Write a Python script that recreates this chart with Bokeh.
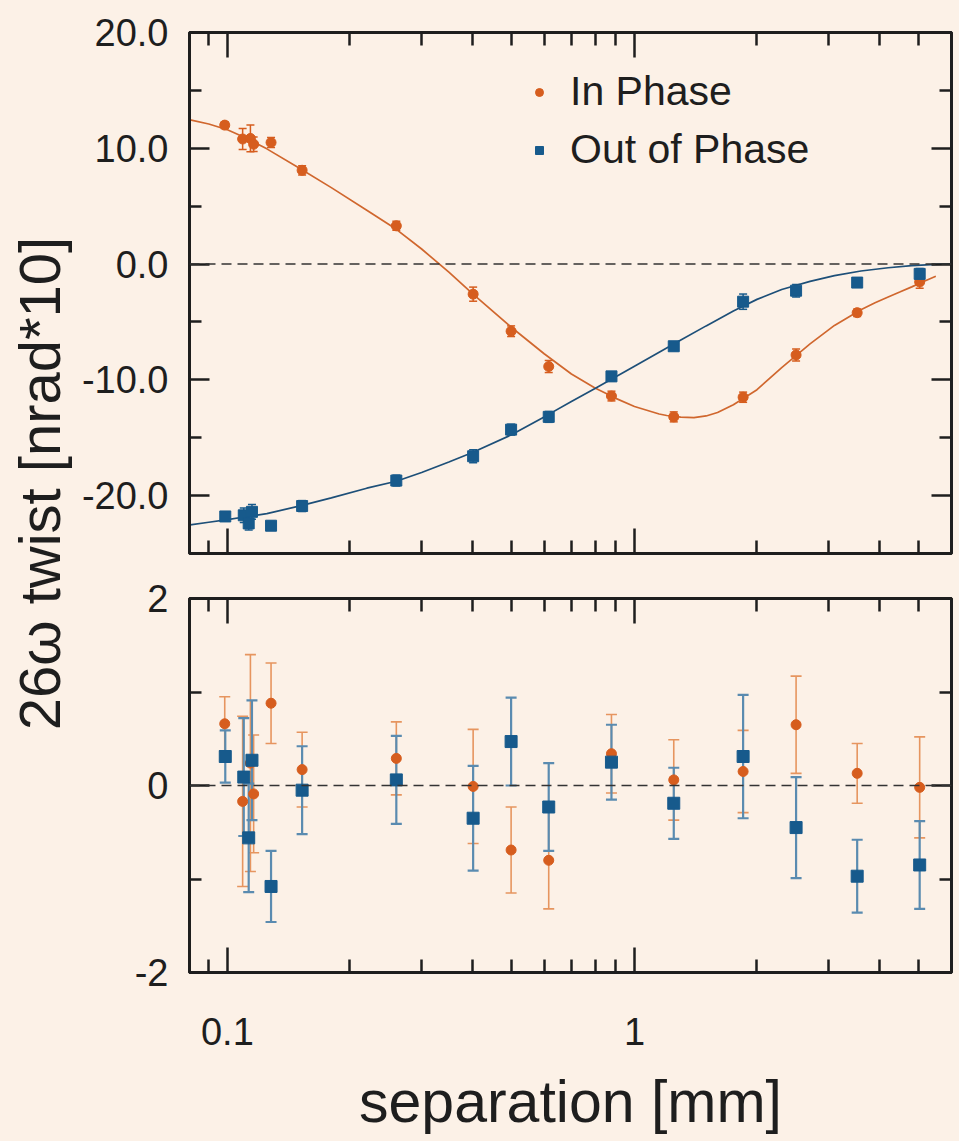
from math import pi
from bokeh.plotting import figure
from bokeh.layouts import row, column
from bokeh.models import (ColumnDataSource, Whisker, TeeHead, Span, Label, Legend,
                          LegendItem, LogAxis, LinearAxis, FixedTicker,
                          CustomJSTickFormatter, PrintfTickFormatter, Range1d)
from bokeh.embed import file_html
from bokeh.resources import INLINE

# ---------------- data ----------------
x_in = [0.0985, 0.109, 0.1139, 0.116, 0.128, 0.1526, 0.26, 0.4015, 0.4977, 0.6157,
        0.878, 1.249, 1.849, 2.495, 3.525, 5.02]
y_in = [12.0, 10.8, 10.85, 10.35, 10.5, 8.1, 3.3, -2.6, -5.8, -8.85,
        -11.4, -13.2, -11.5, -7.85, -4.2, -1.55]
res_in = [0.66, -0.17, 0.24, -0.09, 0.88, 0.17, 0.29, -0.01, -0.69, -0.80,
          0.34, 0.06, 0.15, 0.65, 0.13, -0.02]
err_in = [0.29, 0.91, 1.16, 0.63, 0.43, 0.40, 0.39, 0.61, 0.46, 0.52,
          0.42, 0.43, 0.44, 0.52, 0.32, 0.54]

x_out = [0.0988, 0.1097, 0.1128, 0.1149, 0.128, 0.1526, 0.26, 0.4015, 0.4977, 0.6157,
         0.878, 1.249, 1.849, 2.495, 3.525, 5.02]
y_out = [-21.8, -21.7, -22.4, -21.4, -22.6, -20.9, -18.7, -16.6, -14.3, -13.2,
         -9.7, -7.1, -3.25, -2.3, -1.6, -0.85]
res_out = [0.31, 0.09, -0.56, 0.27, -1.08, -0.05, 0.06, -0.35, 0.47, -0.23,
           0.25, -0.19, 0.31, -0.45, -0.97, -0.85]
err_out = [0.28, 0.63, 0.58, 0.64, 0.38, 0.47, 0.47, 0.56, 0.47, 0.47,
           0.40, 0.38, 0.66, 0.54, 0.39, 0.47]

fit_x_in = [0.081, 0.09, 0.1, 0.11, 0.125, 0.15, 0.18, 0.22, 0.26, 0.3, 0.35, 0.4,
            0.5, 0.6, 0.7, 0.8, 0.9, 1.0, 1.15, 1.2, 1.3, 1.4, 1.5, 1.6, 1.75, 2.0,
            2.3, 2.7, 3.1, 3.6, 3.9, 4.2, 4.5, 4.8, 5.1, 5.5]
fit_y_in = [12.45, 12.1, 11.6, 10.95, 9.95, 8.3, 6.6, 4.65, 3.0, 1.3, -0.7, -2.55,
            -5.5, -7.75, -9.5, -10.7, -11.6, -12.3, -12.95, -13.08, -13.22, -13.27, -13.12,
            -12.82, -12.15, -10.85, -8.95, -6.9, -5.3, -3.95, -3.35, -2.85, -2.4, -1.97,
            -1.55, -1.05]

fit_x_out = [0.081, 0.09, 0.1, 0.11, 0.125, 0.15, 0.18, 0.22, 0.26, 0.3, 0.35, 0.4,
             0.5, 0.6, 0.7, 0.8, 0.9, 1.0, 1.15, 1.3, 1.5, 1.75, 2.0, 2.3, 2.7, 3.1,
             3.6, 4.2, 4.8, 5.5, 6.0]
fit_y_out = [-22.53, -22.3, -22.07, -21.85, -21.55, -20.91, -20.19, -19.36, -18.76, -18.0,
             -17.1, -16.28, -14.73, -13.2, -11.88, -10.75, -9.74, -8.83, -7.62, -6.56,
             -5.34, -4.05, -3.05, -2.2, -1.5, -1.0, -0.6, -0.32, -0.14, -0.03, 0.01]

x_major_ticks = [0.1, 1]
x_minor_ticks = [0.09, 0.2, 0.3, 0.4, 0.5, 0.6, 0.7, 0.8, 0.9, 2, 3, 4, 5]
top_major_ticks = [-20, -10, 0, 10, 20]
top_minor_ticks = [-15, -5, 5, 15]
bot_major_ticks = [-2, 0, 2]
bot_minor_ticks = [-1, 1]

legend_labels = ["In Phase", "Out of Phase"]
x_title = "separation [mm]"
y_title = "26ω twist [nrad*10]"

# ---------------- style ----------------
BG = "#fcf1e7"
INK = "#1e1e1e"
ORANGE = "#d65d1e"
BLUE = "#175a8c"
ORANGE_LINE = "#d0672e"
BLUE_LINE = "#1d4f78"
ORANGE_BAR = "#e6955f"
BLUE_BAR = "#5a8bb0"
FONT = "Liberation Sans"
X_RANGE = (0.0807, 6.01)

LAB_W = 76
PANEL_W = 882
TOP_H = 576
BOT_H = 564
TOTAL_H = TOP_H + BOT_H


def style_x_axis(ax, labels):
    ax.ticker = FixedTicker(ticks=x_major_ticks, minor_ticks=x_minor_ticks)
    ax.axis_line_width = 3
    ax.axis_line_color = INK
    ax.major_tick_in = 25
    ax.major_tick_out = 0
    ax.minor_tick_in = 13
    ax.minor_tick_out = 0
    ax.major_tick_line_width = 2.5
    ax.minor_tick_line_width = 2.5
    ax.major_tick_line_color = INK
    ax.minor_tick_line_color = INK
    if labels:
        ax.formatter = CustomJSTickFormatter(code="return String(Math.round(tick*10)/10);")
        ax.major_label_text_font = FONT
        ax.major_label_text_font_size = "38px"
        ax.major_label_text_color = INK
        ax.major_label_standoff = 45
        ax.axis_label = x_title
        ax.axis_label_text_font = FONT
        ax.axis_label_text_font_size = "59px"
        ax.axis_label_text_font_style = "normal"
        ax.axis_label_text_color = INK
        ax.axis_label_standoff = 21
    else:
        ax.formatter = CustomJSTickFormatter(code="return '';")
        ax.major_label_text_font_size = "0px"
        ax.major_label_standoff = 0


def style_y_axis(ax, major, minor, fmt, labels):
    ax.ticker = FixedTicker(ticks=major, minor_ticks=minor)
    ax.axis_line_width = 3
    ax.axis_line_color = INK
    ax.major_tick_in = 20
    ax.major_tick_out = 0
    ax.minor_tick_in = 12
    ax.minor_tick_out = 0
    ax.major_tick_line_width = 2.5
    ax.minor_tick_line_width = 2.5
    ax.major_tick_line_color = INK
    ax.minor_tick_line_color = INK
    if labels:
        ax.formatter = PrintfTickFormatter(format=fmt)
        ax.major_label_text_font = FONT
        ax.major_label_text_font_size = "38px"
        ax.major_label_text_color = INK
        ax.major_label_standoff = 21
    else:
        ax.formatter = CustomJSTickFormatter(code="return '';")
        ax.major_label_text_font_size = "0px"
        ax.major_label_standoff = 0


def make_panel(height, y_range, border_top, border_bottom):
    p = figure(width=PANEL_W, height=height, x_axis_type="log",
               x_range=Range1d(*X_RANGE), y_range=Range1d(*y_range),
               x_axis_location=None, y_axis_location=None,
               min_border_left=113, min_border_right=7,
               min_border_top=border_top, min_border_bottom=border_bottom,
               toolbar_location=None, output_backend="svg",
               background_fill_color=BG, border_fill_color=BG,
               outline_line_color=INK, outline_line_width=3)
    p.grid.visible = False
    return p


def add_axes(p, major, minor, fmt, x_labels):
    below = LogAxis()
    style_x_axis(below, x_labels)
    p.add_layout(below, "below")
    above = LogAxis()
    style_x_axis(above, False)
    p.add_layout(above, "above")
    left = LinearAxis()
    style_y_axis(left, major, minor, fmt, True)
    p.add_layout(left, "left")
    right = LinearAxis()
    style_y_axis(right, major, minor, fmt, False)
    p.add_layout(right, "right")


def zero_line(p):
    p.add_layout(Span(location=0, dimension="width", line_color="#333333",
                      line_width=1.6, line_dash="10 6"))


def whiskers(p, src, color, width, cap):
    p.add_layout(Whisker(base="x", upper="hi", lower="lo", source=src,
                         dimension="height", line_color=color, line_width=width,
                         upper_head=TeeHead(size=cap, line_color=color, line_width=width),
                         lower_head=TeeHead(size=cap, line_color=color, line_width=width)))


# ---------------- top panel ----------------
top = make_panel(TOP_H, (-25, 20), 32, 23)
add_axes(top, top_major_ticks, top_minor_ticks, "%.1f", False)
zero_line(top)

top.line(fit_x_in, fit_y_in, line_color=ORANGE_LINE, line_width=1.7)
top.line(fit_x_out, fit_y_out, line_color=BLUE_LINE, line_width=1.7)

src_in = ColumnDataSource(dict(x=x_in, y=y_in,
                               hi=[v + e for v, e in zip(y_in, err_in)],
                               lo=[v - e for v, e in zip(y_in, err_in)]))
src_out = ColumnDataSource(dict(x=x_out, y=y_out,
                                hi=[v + e for v, e in zip(y_out, err_out)],
                                lo=[v - e for v, e in zip(y_out, err_out)]))
whiskers(top, src_in, ORANGE, 1.5, 8)
whiskers(top, src_out, BLUE, 1.5, 8)
r_in = top.scatter("x", "y", source=src_in, marker="circle", size=10,
                   fill_color=ORANGE, line_color=ORANGE)
r_out = top.scatter("x", "y", source=src_out, marker="square", size=11,
                    fill_color=BLUE, line_color=BLUE)

legend = Legend(items=[LegendItem(label=legend_labels[0], renderers=[r_in]),
                       LegendItem(label=legend_labels[1], renderers=[r_out])],
                location=(340, 380), orientation="vertical",
                background_fill_alpha=0, border_line_color=None,
                label_text_font=FONT, label_text_font_size="41px",
                label_text_color=INK, glyph_width=20, glyph_height=20,
                label_standoff=21, spacing=11, padding=0, margin=0)
top.add_layout(legend)

# ---------------- bottom panel ----------------
bot = make_panel(BOT_H, (-2, 2), 22, BOT_H - 22 - 374)
add_axes(bot, bot_major_ticks, bot_minor_ticks, "%d", True)
zero_line(bot)

rsrc_in = ColumnDataSource(dict(x=x_in, y=res_in,
                                hi=[v + e for v, e in zip(res_in, err_in)],
                                lo=[v - e for v, e in zip(res_in, err_in)]))
rsrc_out = ColumnDataSource(dict(x=x_out, y=res_out,
                                 hi=[v + e for v, e in zip(res_out, err_out)],
                                 lo=[v - e for v, e in zip(res_out, err_out)]))
whiskers(bot, rsrc_in, ORANGE_BAR, 1.6, 11)
bot.scatter("x", "y", source=rsrc_in, marker="circle", size=10,
            fill_color=ORANGE, line_color=ORANGE)
whiskers(bot, rsrc_out, BLUE_BAR, 2.2, 11)
bot.scatter("x", "y", source=rsrc_out, marker="square", size=12,
            fill_color=BLUE, line_color=BLUE)

# ---------------- shared y title ----------------
lab = figure(width=LAB_W, height=TOTAL_H, x_range=Range1d(0, LAB_W),
             y_range=Range1d(0, TOTAL_H),
             min_border=0, toolbar_location=None, output_backend="svg",
             x_axis_location=None, y_axis_location=None, outline_line_color=None,
             background_fill_color=BG, border_fill_color=BG)
lab.grid.visible = False
lab.add_layout(Label(x=39, y=TOTAL_H - 483, text=y_title, angle=pi / 2,
                     text_align="center", text_baseline="middle",
                     text_font=FONT, text_font_size="58px", text_color=INK))

layout = row(lab, column(top, bot))

html = file_html(layout, INLINE, title="twist vs separation")
html = html.replace("</head>", "<style>body{background:%s;}</style></head>" % BG, 1)
open("out.html", "w").write(html)
